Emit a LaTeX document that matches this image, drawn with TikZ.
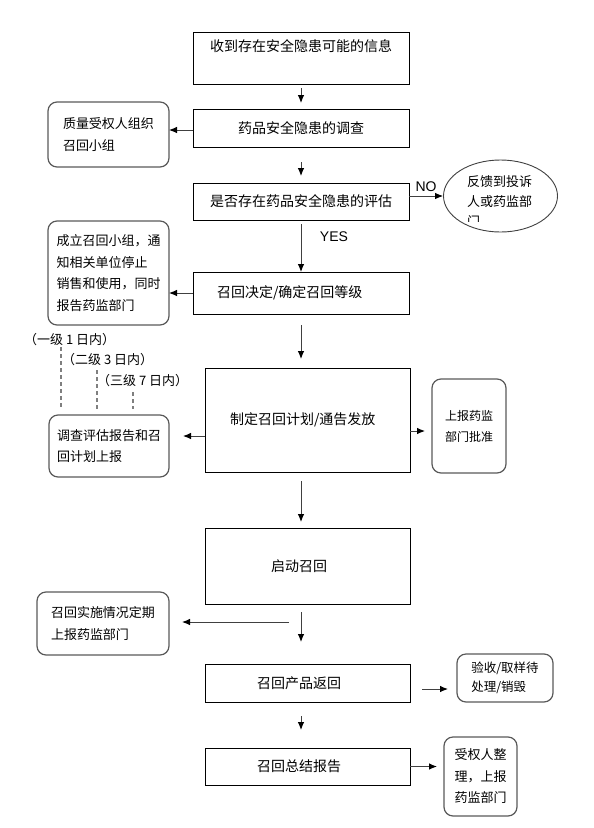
\documentclass[tikz,border=0pt]{standalone}
\usepackage{fontspec}
\setmainfont{Noto Sans CJK SC}
\newfontfamily\latinfont{Liberation Sans}
\usetikzlibrary{arrows.meta, shapes.geometric}
\definecolor{framegray}{HTML}{595959}
\definecolor{linegray}{HTML}{404040}
\definecolor{dashgray}{HTML}{7F7F7F}

\begin{document}
\begin{tikzpicture}[x=1pt, y=-1pt]
\tikzstyle{mainbox} = [rectangle, draw=black, line width=0.9pt, inner sep=0pt, outer sep=0pt, align=center, font=\fontsize{14}{21}\selectfont]
\tikzstyle{sidebox} = [rectangle, rounded corners=9pt, draw=framegray, line width=1.2pt, inner sep=0pt, outer sep=0pt, align=left, font=\fontsize{13}{21.5}\selectfont]
\tikzstyle{arr} = [-{Latex[length=8pt, width=6.5pt, color=black]}, linegray, line width=0.9pt]
\tikzstyle{dashline} = [dashgray, line width=1.6pt, dash pattern=on 4pt off 3pt, shorten >=6pt]
\tikzstyle{tag} = [inner sep=0pt, anchor=west, font=\fontsize{13}{15}\selectfont]
\tikzstyle{yesno} = [inner sep=0pt, font=\latinfont\fontsize{14}{16}\selectfont]

\useasboundingbox (0,0) rectangle (594,828);

% Main flow
\node (b1) [mainbox, minimum width=216pt, minimum height=52pt] at (301,58) {收到存在安全隐患可能的信息\\[-3pt]\strut};
\node (b2) [mainbox, minimum width=216pt, minimum height=38pt] at (301,128) {药品安全隐患的调查};
\node (b3) [mainbox, minimum width=216pt, minimum height=37pt] at (301,201.5) {是否存在药品安全隐患的评估};
\node (b4) [mainbox, minimum width=216pt, minimum height=42pt, text width=168pt, align=left] at (301,293) {召回决定/确定召回等级};
\node (b5) [mainbox, minimum width=205pt, minimum height=104pt, text width=155pt, align=left] at (307.5,420) {制定召回计划/通告发放};
\node (b6) [mainbox, minimum width=205pt, minimum height=76pt, text width=73pt, align=left] at (307.5,566) {启动召回};
\node (b7) [mainbox, minimum width=205pt, minimum height=38pt, text width=101pt, align=left] at (307.5,683) {召回产品返回};
\node (b8) [mainbox, minimum width=205pt, minimum height=37pt, text width=101pt, align=left] at (307.5,766.5) {召回总结报告};

% Side boxes
\node (bA) [sidebox, minimum width=121pt, minimum height=65pt] at (108.5,134.5) {质量受权人组织\\召回小组};
\node (bB) [sidebox, minimum width=121pt, minimum height=104pt] at (108.5,273) {成立召回小组，通\\知相关单位停止\\销售和使用，同时\\报告药监部门};
\node (bC) [sidebox, minimum width=120pt, minimum height=62pt] at (109,446) {调查评估报告和召\\回计划上报};
\node (bD) [sidebox, minimum width=74pt, minimum height=94pt, align=center, font=\fontsize{12}{21}\selectfont] at (469,426) {上报药监\\部门批准};
\node (bE) [sidebox, minimum width=132pt, minimum height=63pt] at (103,623.5) {召回实施情况定期\\上报药监部门};
\node (bF) [sidebox, minimum width=96pt, minimum height=48pt, font=\fontsize{12.5}{19}\selectfont] at (505,678) {验收/取样待\\处理/销毁};
\node (bG) [sidebox, minimum width=73pt, minimum height=79pt] at (480.5,776.5) {受权人整\\理，上报\\药监部门};

% Feedback ellipse, text cut off at the bottom
\node (fb) [ellipse, draw=linegray, line width=0.9pt, minimum width=114pt, minimum height=72pt, inner sep=0pt] at (500.5,196) {};
\begin{scope}
\clip (440,165) rectangle (560,221);
\node (fbtext) [inner sep=0pt, align=left, anchor=north west, font=\fontsize{13}{20}\selectfont] at (467,175.5) {反馈到投诉\\人或药监部\\门};
\end{scope}

% Deadlines
\node (lv1) [tag] at (24,340) {（一级\ 1\ 日内）};
\node (lv2) [tag] at (62,360) {（二级\ 3\ 日内）};
\node (lv3) [tag] at (97,381) {（三级\ 7\ 日内）};
\foreach \x/\y in {61/347, 97/370, 133/392} {
    \draw[dashline] (\x,\y) -- (\x,0 |- bC.north);
}

% Labels
\node (no) [yesno] at (426,187) {NO};
\node (yes) [yesno] at (334,237) {YES};

% Arrows down the middle
\coordinate (m6) at (289,622);
\draw[arr, shorten <=4pt, shorten >=6pt] (b1) -- (b2);
\draw[arr, shorten <=15pt, shorten >=7pt] (b2) -- (b3);
\draw[arr, shorten <=4pt] (b3) -- (b4);
\draw[arr, shorten <=11pt, shorten >=9pt] (b4) -- (b4 |- b5.north);
\draw[arr, shorten <=9pt, shorten >=6pt] (b4 |- b5.south) -- (b4 |- b6.north);
\draw[arr, shorten <=8pt, shorten >=22pt] (b4 |- b6.south) -- (b4 |- b7.north);
\draw[arr, shorten <=14pt, shorten >=18pt] (b4 |- b7.south) -- (b4 |- b8.north);

% Arrows to the sides
\draw[arr] ([yshift=-2pt]b2.west) -- ([yshift=-2pt]b2.west -| bA.east);
\draw[arr] (b3.east |- fb) -- (fb.west);
\draw[arr] (b4.west) -- (b4.west -| bB.east);
\draw[arr, shorten >=14pt] ([yshift=-16pt]b5.west) -- ([yshift=-16pt]b5.west -| bC.east);
\draw[arr, shorten >=7pt] ([yshift=-11pt]b5.east) -- ([yshift=-11pt]b5.east -| bD.west);
\draw[arr, shorten >=13pt] (m6) -- (m6 -| bE.east);
\draw[arr, shorten <=12pt, shorten >=9pt] ([yshift=-6pt]b7.east) -- ([yshift=-6pt]b7.east -| bF.west);
\draw[arr, shorten >=7pt] (b8.east) -- (b8.east -| bG.west);

\end{tikzpicture}
\end{document}
